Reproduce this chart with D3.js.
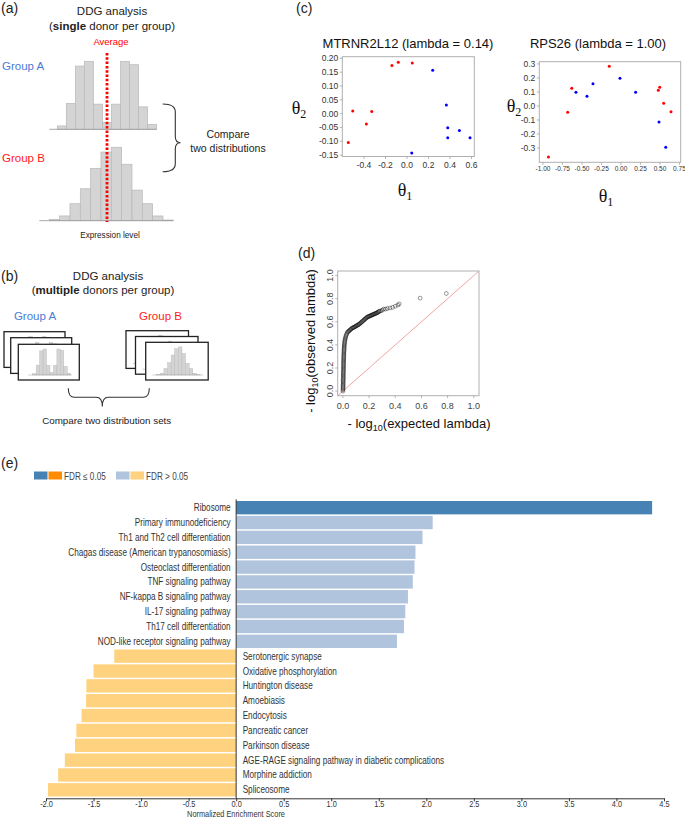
<!DOCTYPE html>
<html><head><meta charset="utf-8">
<script src="https://cdn.jsdelivr.net/npm/d3@7"></script>
<style>
body{margin:0;background:#fff;}
svg{display:block;font-family:"Liberation Sans",Arial,sans-serif;}
text{white-space:pre;}
</style>
</head><body>
<svg id="c" width="685" height="819"></svg>
<script>
// ---------- DATA ----------
// (a)/(b) histogram shapes (relative frequency)
const histA = [5, 38, 93, 100, 37, 10, 37, 100, 95, 33, 7];
const histB = [2, 7, 25, 47, 77, 101, 108, 83, 45, 25, 7, 1];

// (c) MTRNR2L12 (lambda = 0.14)
const mtRed  = [[-0.546,-0.104],[-0.505,0.010],[-0.378,-0.037],[-0.328,0.008],[-0.140,0.174],[-0.081,0.186],[0.049,0.183]];
const mtBlue = [[0.239,0.157],[0.366,0.031],[0.379,-0.051],[0.379,-0.087],[0.487,-0.061],[0.586,-0.087],[0.044,-0.142]];
const mtXTicks = [-0.4,-0.2,0,0.2,0.4,0.6];
const mtYTicks = [-0.15,-0.10,-0.05,0,0.05,0.10,0.15,0.20];
// (c) RPS26 (lambda = 1.00)
const rpRed  = [[-0.930,-0.364],[-0.683,-0.045],[-0.631,0.126],[-0.150,0.284],[0.479,0.112],[0.497,0.134],[0.548,0.019],[0.642,-0.041]];
const rpBlue = [[-0.577,0.098],[-0.436,0.069],[-0.359,0.159],[-0.013,0.198],[0.188,0.098],[0.488,-0.114],[0.574,-0.295]];
const rpXTicks = [-1,-0.75,-0.5,-0.25,0,0.25,0.5,0.75];
const rpYTicks = [-0.3,-0.2,-0.1,0,0.1,0.2,0.3];

// (d) QQ plot: [-log10 expected, -log10 observed]
const qqPoints = [
 [0,0],[0,0.01],[0.001,0.02],[0.001,0.03],[0.001,0.04],[0.001,0.05],[0.002,0.06],[0.002,0.07],[0.002,0.08],
 [0.002,0.09],[0.002,0.10],[0.003,0.11],[0.003,0.12],[0.003,0.13],[0.003,0.14],[0.003,0.15],[0.003,0.16],
 [0.004,0.17],[0.004,0.18],[0.004,0.19],[0.004,0.20],[0.004,0.21],[0.005,0.22],[0.005,0.23],[0.005,0.24],
 [0.005,0.25],[0.005,0.26],[0.006,0.27],[0.006,0.28],[0.006,0.29],[0.006,0.30],[0.007,0.31],[0.007,0.32],
 [0.007,0.33],[0.008,0.34],[0.008,0.35],[0.009,0.36],[0.009,0.37],[0.010,0.38],[0.010,0.39],[0.011,0.40],
 [0.012,0.41],[0.013,0.42],[0.014,0.43],[0.015,0.44],[0.017,0.45],[0.019,0.46],[0.021,0.47],[0.024,0.48],
 [0.027,0.49],[0.031,0.50],[0.035,0.51],[0.040,0.515],[0.045,0.52],[0.050,0.525],[0.055,0.53],[0.060,0.535],
 [0.065,0.54],[0.070,0.545],[0.075,0.548],[0.080,0.55],[0.085,0.553],[0.090,0.556],[0.095,0.56],[0.100,0.563],
 [0.105,0.567],[0.110,0.57],[0.115,0.573],[0.120,0.577],[0.125,0.58],[0.130,0.585],[0.135,0.59],[0.140,0.595],
 [0.145,0.60],[0.150,0.605],[0.155,0.61],[0.160,0.615],[0.165,0.62],[0.170,0.625],[0.175,0.63],[0.180,0.635],
 [0.185,0.64],[0.190,0.642],[0.195,0.645],[0.200,0.648],[0.205,0.65],[0.210,0.653],[0.215,0.655],[0.220,0.658],
 [0.225,0.66],[0.230,0.663],[0.235,0.665],[0.240,0.668],[0.245,0.67],[0.250,0.673],[0.255,0.675],[0.260,0.678],
 [0.265,0.68],[0.270,0.685],[0.275,0.69],[0.280,0.692],[0.290,0.695],[0.300,0.70],[0.310,0.71],[0.325,0.71],
 [0.340,0.715],[0.360,0.72],[0.380,0.725],[0.400,0.735],[0.420,0.745],[0.430,0.755],[0.590,0.805],[0.790,0.845]
];
const qqTicks = [0,0.2,0.4,0.6,0.8,1.0];

// (e) GSEA
const pathways = ["Ribosome","Primary immunodeficiency","Th1 and Th2 cell differentiation",
 "Chagas disease (American trypanosomiasis)","Osteoclast differentiation","TNF signaling pathway",
 "NF-kappa B signaling pathway","IL-17 signaling pathway","Th17 cell differentiation",
 "NOD-like receptor signaling pathway","Serotonergic synapse","Oxidative phosphorylation",
 "Huntington disease","Amoebiasis","Endocytosis","Pancreatic cancer","Parkinson disease",
 "AGE-RAGE signaling pathway in diabetic complications","Morphine addiction","Spliceosome"];
const nesValues = [4.375,2.067,1.960,1.886,1.876,1.858,1.807,1.779,1.765,1.691,
 -1.282,-1.500,-1.575,-1.579,-1.626,-1.681,-1.695,-1.802,-1.872,-1.979];
const fdrSignificant = [true,false,false,false,false,false,false,false,false,false,
 false,false,false,false,false,false,false,false,false,false];
const nesTicks = [-2.0,-1.5,-1.0,-0.5,0.0,0.5,1.0,1.5,2.0,2.5,3.0,3.5,4.0,4.5];
const legendLabels = ["FDR \u2264 0.05","FDR > 0.05"];

// ---------- DRAW ----------
const svg = d3.select("#c");
const SERIF = "'Liberation Serif','Times New Roman',serif";
const SQ = 0.82; // horizontal squeeze for panel (e) text
function txt(g, x, y, s, o={}) {
  const t = g.append("text").attr("x",x).attr("y",y).text(s)
    .attr("font-size", o.size||10).attr("text-anchor", o.anchor||"start").attr("fill", o.fill||"#222");
  if (o.family) t.attr("font-family", o.family);
  if (o.weight) t.attr("font-weight", o.weight);
  return t;
}
function sqTxt(g, x, y, s, o={}) {
  return g.append("text").attr("transform",`translate(${x},${y}) scale(${SQ},1)`).text(s)
    .attr("font-size", o.size||10).attr("text-anchor", o.anchor||"start").attr("fill", o.fill||"#333");
}

// ===== Panel (a) =====
const ga = svg.append("g");
txt(ga,1,13,"(a)",{size:14});
txt(ga,112,14.5,"DDG analysis",{size:11.5,anchor:"middle"});
{
  const s = ga.append("text").attr("x",112).attr("y",29.5).attr("text-anchor","middle").attr("font-size",11.5).attr("fill","#222");
  s.append("tspan").text("(");
  s.append("tspan").attr("font-weight","bold").text("single");
  s.append("tspan").text(" donor per group)");
}
txt(ga,111,45,"Average",{size:9.5,anchor:"middle",fill:"#ff0000"});
txt(ga,2,70,"Group A",{size:11.5,fill:"#4a7bd4"});
txt(ga,2,162,"Group B",{size:11.5,fill:"#ff1a1a"});

function hist(g, data, x0, x1, base, hs, lx0, lx1, sw) {
  const xb = d3.scaleBand().domain(d3.range(data.length)).range([x0,x1]);
  g.append("g").selectAll("rect").data(data).join("rect")
    .attr("x",(d,i)=>xb(i)).attr("width",xb.bandwidth())
    .attr("y",d=>base-hs(d)).attr("height",d=>hs(d))
    .attr("fill","#d4d4d4").attr("stroke","#b8b8b8").attr("stroke-width",sw);
  g.append("line").attr("x1",lx0).attr("x2",lx1).attr("y1",base).attr("y2",base)
    .attr("stroke","#999").attr("stroke-width",sw*1.2);
}
const hsBig = d3.scaleLinear().domain([0,100]).range([0,68]);
hist(ga, histA, 57.3, 156.7, 129.3, hsBig, 49.3, 156.7, 0.7);
hist(ga, histB, 49.3, 173.3, 220.7, hsBig, 39.3, 173.3, 0.7);
ga.append("line").attr("x1",107).attr("x2",107).attr("y1",53).attr("y2",222)
  .attr("stroke","#ff0000").attr("stroke-width",2.8).attr("stroke-dasharray","2.5,1.8");
ga.append("path")
  .attr("d","M162.7,104 Q175.3,104 175.3,112 L175.3,136.5 Q175.3,142.7 180.5,142.7 Q175.3,142.7 175.3,149 L175.3,163.7 Q175.3,171.7 162.7,171.7")
  .attr("fill","none").attr("stroke","#333").attr("stroke-width",1.1);
txt(ga,228,138,"Compare",{size:10.5,anchor:"middle"});
txt(ga,228,151.5,"two distributions",{size:10.5,anchor:"middle"});
txt(ga,110,238,"Expression level",{size:8.2,anchor:"middle"});

// ===== Panel (b) =====
const gb = svg.append("g");
txt(gb,1,281,"(b)",{size:14});
txt(gb,108,279.5,"DDG analysis",{size:11.5,anchor:"middle"});
{
  const s = gb.append("text").attr("x",103).attr("y",293.8).attr("text-anchor","middle").attr("font-size",11.5).attr("fill","#222");
  s.append("tspan").text("(");
  s.append("tspan").attr("font-weight","bold").text("multiple");
  s.append("tspan").text(" donors per group)");
}
txt(gb,35,320,"Group A",{size:11.5,anchor:"middle",fill:"#4a7bd4"});
txt(gb,160.5,319.5,"Group B",{size:11.5,anchor:"middle",fill:"#ff1a1a"});
const hsMini = d3.scaleLinear().domain([0,100]).range([0,26]);
const cardsA = [[4,331.7],[10.7,337.7],[18.3,344.3]];
const cardsB = [[126,330.7],[135.5,336.5],[145.7,342.3]];
cardsA.forEach(([x,y])=>{
  const w=61,h=35.7;
  gb.append("rect").attr("x",x).attr("y",y).attr("width",w).attr("height",h)
    .attr("fill","#fff").attr("stroke","#222").attr("stroke-width",1.3);
  hist(gb, histA, x+14.4, x+52.4, y+h-5, hsMini, x+10, x+53.4, 0.4);
});
cardsB.forEach(([x,y])=>{
  const w=62.5,h=37.7;
  gb.append("rect").attr("x",x).attr("y",y).attr("width",w).attr("height",h)
    .attr("fill","#fff").attr("stroke","#222").attr("stroke-width",1.3);
  hist(gb, histB, x+11, x+54.3, y+h-5, hsMini, x+7, x+57.6, 0.4);
});
gb.append("path")
  .attr("d","M68.3,388.3 Q68.3,397.3 74.3,397.3 L96.3,397.3 Q102.3,397.3 102.3,406.5 Q102.3,397.3 108.3,397.3 L143.3,397.3 Q149.3,397.3 149.3,388.3")
  .attr("fill","none").attr("stroke","#333").attr("stroke-width",1.1);
txt(gb,106.7,423.5,"Compare two distribution sets",{size:9.8,anchor:"middle"});

// ===== Panel (c) =====
const gc = svg.append("g");
txt(gc,296,13,"(c)",{size:14});
function scatter(g, o) {
  const x = d3.scaleLinear().domain(o.xd).range([o.x0,o.x1]);
  const y = d3.scaleLinear().domain(o.yd).range([o.y1,o.y0]);
  g.append("rect").attr("x",o.x0).attr("y",o.y0).attr("width",o.x1-o.x0).attr("height",o.y1-o.y0)
    .attr("fill","none").attr("stroke","#b0b0b0").attr("stroke-width",1);
  o.xticks.forEach(v=>{
    g.append("line").attr("x1",x(v)).attr("x2",x(v)).attr("y1",o.y1).attr("y2",o.y1+2.5).attr("stroke","#999").attr("stroke-width",0.7);
    txt(g,x(v),o.y1+o.xlabOff,o.xfmt(v),{size:o.xfs,anchor:"middle",fill:"#333"});
  });
  o.yticks.forEach(v=>{
    g.append("line").attr("x1",o.x0-2.5).attr("x2",o.x0).attr("y1",y(v)).attr("y2",y(v)).attr("stroke","#999").attr("stroke-width",0.7);
    txt(g,o.x0-4,y(v)+3,o.yfmt(v),{size:o.yfs,anchor:"end",fill:"#333"});
  });
  g.append("g").selectAll("circle").data(o.red).join("circle")
    .attr("cx",d=>x(d[0])).attr("cy",d=>y(d[1])).attr("r",1.5).attr("fill","#ff0000");
  g.append("g").selectAll("circle").data(o.blue).join("circle")
    .attr("cx",d=>x(d[0])).attr("cy",d=>y(d[1])).attr("r",1.5).attr("fill","#0000ff");
  txt(g,o.tx,48,o.title,{size:13,anchor:"middle",fill:"#111"});
  const t1 = g.append("text").attr("x",o.th1[0]).attr("y",o.th1[1]).attr("text-anchor","middle")
    .attr("font-family",SERIF).attr("font-size",18).attr("fill","#111");
  t1.append("tspan").text("\u03b8");
  t1.append("tspan").attr("font-size",12).attr("dy",4).text("1");
  const t2 = g.append("text").attr("x",o.th2[0]).attr("y",o.th2[1]).attr("text-anchor","middle")
    .attr("font-family",SERIF).attr("font-size",18).attr("fill","#111");
  t2.append("tspan").text("\u03b8");
  t2.append("tspan").attr("font-size",12).attr("dy",4).text("2");
}
scatter(gc,{x0:342.3,x1:474.3,y0:56.7,y1:156.5,xd:[-0.602,0.626],yd:[-0.155,0.206],
  xticks:mtXTicks,yticks:mtYTicks,xfmt:v=>v.toFixed(1),yfmt:v=>v.toFixed(2),xfs:8.5,yfs:8.5,xlabOff:11,
  red:mtRed,blue:mtBlue,title:"MTRNR2L12 (lambda = 0.14)",tx:408,th1:[405,196],th2:[299,114]});
scatter(gc,{x0:539.3,x1:680.7,y0:61.7,y1:162.3,xd:[-1.047,0.766],yd:[-0.402,0.316],
  xticks:rpXTicks,yticks:rpYTicks,xfmt:v=>v.toFixed(2),yfmt:v=>v.toFixed(1),xfs:6.5,yfs:8.5,xlabOff:8.5,
  red:rpRed,blue:rpBlue,title:"RPS26 (lambda = 1.00)",tx:598,th1:[606,202],th2:[514,112]});

// ===== Panel (d) =====
const gd = svg.append("g");
txt(gd,298,258,"(d)",{size:14});
{
  const b = {x0:337.7,x1:479,y0:271,y1:395.7};
  const x = d3.scaleLinear().domain([-0.04,1.04]).range([b.x0,b.x1]);
  const y = d3.scaleLinear().domain([-0.04,1.04]).range([b.y1,b.y0]);
  gd.append("line").attr("x1",x(-0.04)).attr("y1",y(-0.04)).attr("x2",x(1.04)).attr("y2",y(1.04))
    .attr("stroke","#f5a3a3").attr("stroke-width",1);
  gd.append("rect").attr("x",b.x0).attr("y",b.y0).attr("width",b.x1-b.x0).attr("height",b.y1-b.y0)
    .attr("fill","none").attr("stroke","#b0b0b0").attr("stroke-width",1);
  qqTicks.forEach(v=>{
    gd.append("line").attr("x1",x(v)).attr("x2",x(v)).attr("y1",b.y1).attr("y2",b.y1+2.5).attr("stroke","#999").attr("stroke-width",0.7);
    txt(gd,x(v),b.y1+13.5,v.toFixed(1),{size:9,anchor:"middle",fill:"#444"});
    gd.append("line").attr("x1",b.x0-2.5).attr("x2",b.x0).attr("y1",y(v)).attr("y2",y(v)).attr("stroke","#999").attr("stroke-width",0.7);
    gd.append("text").attr("transform",`translate(333,${y(v)}) rotate(-90)`).attr("text-anchor","middle")
      .attr("font-size",9).attr("fill","#444").text(v.toFixed(1));
  });
  gd.append("g").selectAll("circle").data(qqPoints).join("circle")
    .attr("cx",d=>x(d[0])).attr("cy",d=>y(d[1])).attr("r",1.9)
    .attr("fill","none").attr("stroke","#000").attr("stroke-width",0.9).attr("stroke-opacity",0.45);
  const xl = gd.append("text").attr("x",419).attr("y",428).attr("text-anchor","middle").attr("font-size",13).attr("fill","#111");
  xl.append("tspan").text("- log");
  xl.append("tspan").attr("font-size",9).attr("dy",3).text("10");
  xl.append("tspan").attr("dy",-3).text("(expected lambda)");
  const yl = gd.append("text").attr("transform","translate(314.5,341) rotate(-90)").attr("text-anchor","middle").attr("font-size",13).attr("fill","#111");
  yl.append("tspan").text("- log");
  yl.append("tspan").attr("font-size",9).attr("dy",3).text("10");
  yl.append("tspan").attr("dy",-3).text("(observed lambda)");
}

// ===== Panel (e) =====
const ge = svg.append("g");
txt(ge,1,468,"(e)",{size:14});
const colorOf = (v,sig)=> v>=0 ? (sig?"#4682b4":"#b0c4de") : (sig?"#ff8c00":"#ffd27f");
[[34,"#4682b4"],[48.5,"#ff8c00"],[116,"#b0c4de"],[130.5,"#ffd27f"]].forEach(([lx,c])=>{
  ge.append("rect").attr("x",lx).attr("y",471.5).attr("width",13.5).attr("height",8).attr("fill",c);
});
sqTxt(ge,64,479.5,legendLabels[0],{size:10,fill:"#444"});
sqTxt(ge,146,479.5,legendLabels[1],{size:10,fill:"#444"});

const ex = d3.scaleLinear().domain([-2,4.5]).range([46,664]);
const ey = d3.scaleBand().domain(pathways).range([501,796.5]).paddingInner(0.1);
ge.append("g").selectAll("rect").data(pathways).join("rect")
  .attr("x",(d,i)=>ex(Math.min(0,nesValues[i])))
  .attr("width",(d,i)=>Math.abs(ex(nesValues[i])-ex(0)))
  .attr("y",d=>ey(d)).attr("height",ey.bandwidth())
  .attr("fill",(d,i)=>colorOf(nesValues[i],fdrSignificant[i]));
pathways.forEach((d,i)=>{
  const pos = nesValues[i]>=0;
  sqTxt(ge, pos ? ex(0)-5.5 : ex(0)+6.5, ey(d)+ey.bandwidth()/2+3.5, d,
    {size:10, anchor: pos ? "end":"start", fill:"#333"});
});
ge.append("line").attr("x1",ex(0)).attr("x2",ex(0)).attr("y1",499.3).attr("y2",798.3)
  .attr("stroke","#333").attr("stroke-width",1);
const axE = ge.append("g").attr("transform","translate(0,798.3)")
  .call(d3.axisBottom(ex).tickValues(nesTicks).tickFormat(v=>v.toFixed(1)).tickSize(3).tickSizeOuter(0));
axE.attr("font-family",null);
axE.select(".domain").attr("stroke","#333");
axE.selectAll(".tick line").attr("stroke","#333");
axE.selectAll(".tick text").attr("font-size",9).attr("fill","#333")
  .attr("y",0).attr("dy",0).attr("transform",`translate(0,9) scale(${SQ},1)`);
sqTxt(ge,236,816.8,"Normalized Enrichment Score",{size:9,anchor:"middle",fill:"#333"});
</script>
</body></html>
